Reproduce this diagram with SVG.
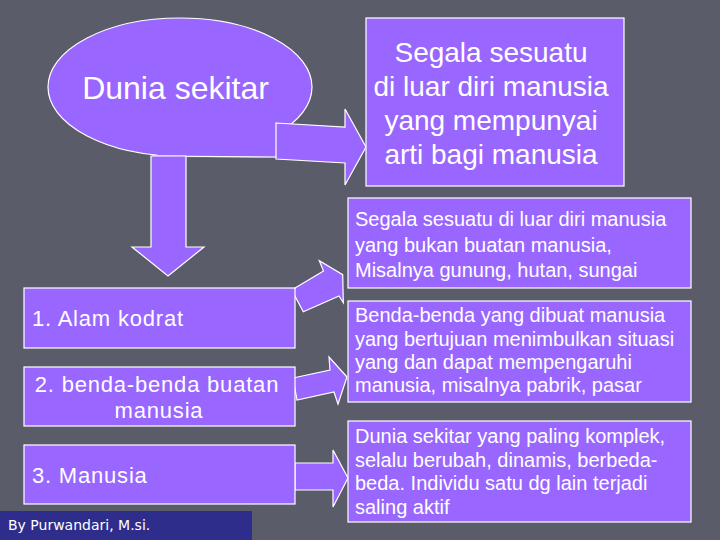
<svg xmlns="http://www.w3.org/2000/svg" width="720" height="540" viewBox="0 0 720 540">
<style>
.bg{fill:#5b5c69}
.shape{fill:#9966ff;stroke:#ffffff;stroke-width:1.2}
.fill{fill:#9966ff;stroke:none}
.t{font-family:"Liberation Sans",Arial,sans-serif;fill:#ffffff}
.big{font-size:28px}
.mid{font-size:22px;letter-spacing:0.8px}
.sm{font-size:20px}
</style>
<rect class="bg" x="0" y="0" width="720" height="540"/>

<g id="node-dunia">
<ellipse class="shape" cx="180" cy="87" rx="132" ry="69"/>
<polygon class="fill" points="152,157 277,158 277,120 170,148"/>
<line x1="152" y1="156" x2="277" y2="157" stroke="#ffffff" stroke-width="1.2"/>
<text class="t" x="175.5" y="99" font-size="32" text-anchor="middle">Dunia sekitar</text>
</g>

<g id="connectors">
<polygon class="shape" points="276,123 345,127 345,109 366,147 345,185 345,163 276,159"/>
<polygon class="shape" points="151,156 186,156 186,247 204,247 168,276 132,247 151,247"/>
<polygon class="shape" points="291.7,290 323.5,271 319.3,260.7 342.7,274.7 343.3,302.7 339,296 303.3,311.7"/>
<polygon class="shape" points="293,378 330,370 329,357 347,377 338,404 334,392 297,400"/>
<polygon class="shape" points="295,463 333,463 333,450 348,478 333,507 333,490 295,490"/>
</g>

<g id="node-def">
<rect class="shape" x="366" y="18" width="258" height="168"/>
<text class="t big" text-anchor="middle"><tspan x="491" y="62">Segala sesuatu</tspan><tspan x="491" y="96">di luar diri manusia</tspan><tspan x="491" y="130">yang mempunyai</tspan><tspan x="491" y="164">arti bagi manusia</tspan></text>
</g>

<g id="node-alam-desc">
<rect class="shape" x="348" y="198" width="343" height="90"/>
<text class="t sm"><tspan x="355" y="226">Segala sesuatu di luar diri manusia</tspan><tspan x="355" y="252">yang bukan buatan manusia,</tspan><tspan x="355" y="277">Misalnya gunung, hutan, sungai</tspan></text>
</g>

<g id="node-benda-desc">
<rect class="shape" x="348" y="301" width="343" height="101"/>
<text class="t sm"><tspan x="355" y="322">Benda-benda yang dibuat manusia</tspan><tspan x="355" y="345.5">yang bertujuan menimbulkan situasi</tspan><tspan x="355" y="369">yang dan dapat mempengaruhi</tspan><tspan x="355" y="392">manusia, misalnya pabrik, pasar</tspan></text>
</g>

<g id="node-manusia-desc">
<rect class="shape" x="348" y="421" width="343" height="101"/>
<text class="t sm"><tspan x="355" y="443">Dunia sekitar yang paling komplek,</tspan><tspan x="355" y="467">selalu berubah, dinamis, berbeda-</tspan><tspan x="355" y="490">beda. Individu satu dg lain terjadi</tspan><tspan x="355" y="514">saling aktif</tspan></text>
</g>

<g id="node-alam">
<rect class="shape" x="24" y="288" width="271" height="60"/>
<text class="t mid" x="32" y="326">1. Alam kodrat</text>
</g>

<g id="node-benda">
<rect class="shape" x="24" y="367" width="271" height="59"/>
<text class="t mid" text-anchor="middle"><tspan x="157" y="392">2. benda-benda buatan</tspan><tspan x="159" y="418">manusia</tspan></text>
</g>

<g id="node-manusia">
<rect class="shape" x="24" y="445" width="271" height="59"/>
<text class="t mid" x="32" y="483">3. Manusia</text>
</g>

<g id="credit">
<rect x="0" y="511" width="252" height="29" fill="#2e2d8c"/>
<text x="8" y="530" font-family="'DejaVu Sans',Verdana,sans-serif" font-size="14" fill="#ffffff">By Purwandari, M.si.</text>
</g>
</svg>
